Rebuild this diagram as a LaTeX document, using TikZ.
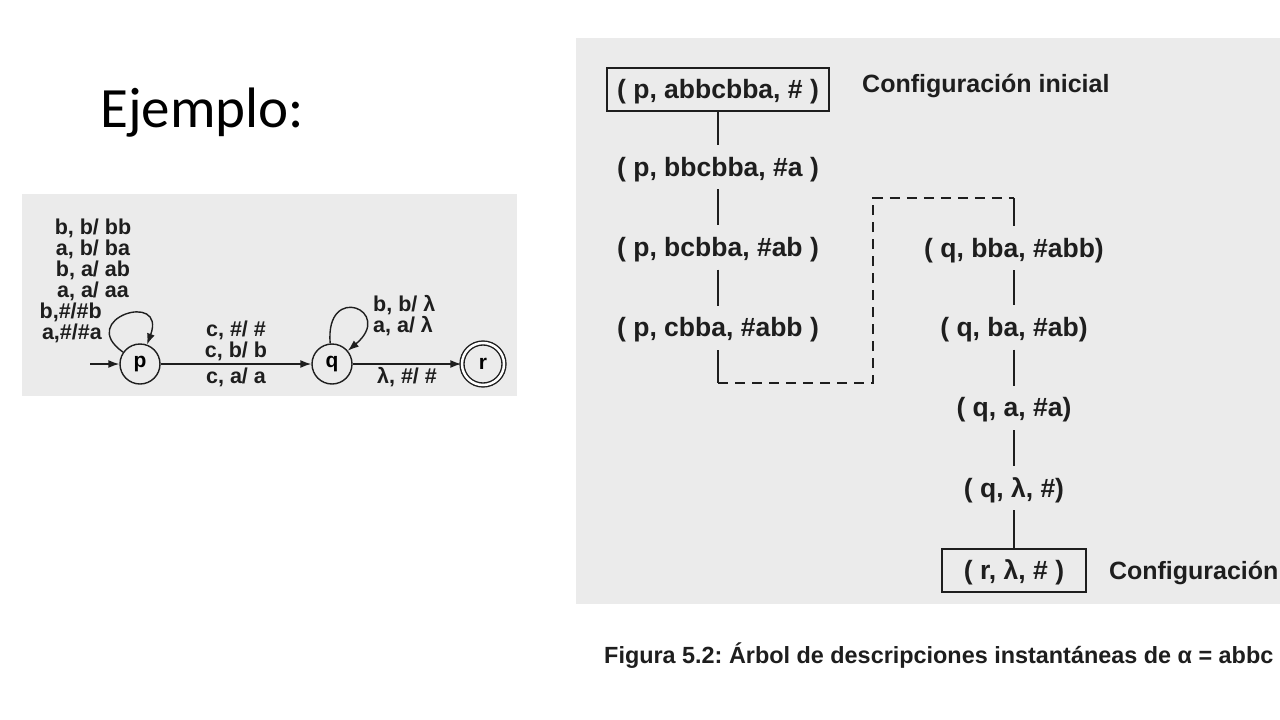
\documentclass[tikz,border=0pt]{standalone}
\usepackage{fontspec}
\setmainfont{Liberation Sans}
\newfontfamily\slidefont{Carlito}
\usetikzlibrary{positioning,arrows.meta}
\definecolor{panelgray}{RGB}{235,235,235}
\definecolor{inkgray}{RGB}{30,30,30}
\tikzset{
  state/.style={circle, draw=inkgray, line width=1.4pt, minimum size=40pt, inner sep=0pt, font=\fontsize{21}{22}\selectfont\bfseries},
  accept/.style={state, double, double distance=2.5pt, minimum size=42pt},
  tr/.style={draw=inkgray, line width=1.4pt, -{Latex[length=11pt,width=8pt]}},
  tlbl/.style={font=\fontsize{21.5}{21}\selectfont\bfseries, inner sep=1pt, text=inkgray},
  conf/.style={font=\fontsize{26.5}{28}\selectfont\bfseries, text=inkgray, text height=25pt, text depth=7pt, inner ysep=6pt, inner xsep=0pt},
  confbox/.style={conf, draw=inkgray, line width=1.6pt, inner ysep=5.5pt},
  clbl/.style={font=\fontsize{25}{28}\selectfont\bfseries, text=inkgray, inner sep=0pt},
  tline/.style={draw=inkgray, line width=2pt},
  dline/.style={draw=inkgray, line width=2pt, dash pattern=on 10pt off 7pt},
}
\frenchspacing
\begin{document}
\begin{tikzpicture}[x=1pt, y=-1pt]
\useasboundingbox (0,0) rectangle (1280,720);
\clip (0,0) rectangle (1280,720);
\fill[white] (0,0) rectangle (1280,720);
\fill[panelgray] (22,194) rectangle (517,396); % automaton panel
\fill[panelgray] (576,38) rectangle (1290,604); % tree panel
\node[font=\slidefont\fontsize{57}{63}\selectfont, inner sep=0pt, anchor=base west] (title) at (100,127) {Ejemplo:};
% automaton
\node[state] (p) at (140,364) {p}; % State.p
\node[state] (q) at (332,364) {q}; % State.q
\node[accept] (r) at (483,364) {r}; % State.r
\coordinate (start) at (90,364);
\draw[tr] (start) -- (p); % Initial
\draw[tr] (p) -- node[tlbl, above, align=center, yshift=1pt] (lpq) {c, \#/ \#\\c, b/ b} node[tlbl, below, yshift=-2pt] (lpqb) {c, a/ a} (q);
\draw[tr] (q) -- node[tlbl, below, yshift=-2pt] (lqr) {λ, \#/ \#} (r);
\draw[tr] (p) to[out=145, in=70, distance=58pt] (p); % Loop.p
\draw[tr] (q) to[out=95, in=40, distance=62pt] (q); % Loop.q
\node[tlbl, align=center] (lpp) at (93,260) {b, b/ bb\\a, b/ ba\\b, a/ ab\\a, a/ aa};
\node[tlbl, align=right, anchor=east] (lppb) at (103,323) {b,\#/\#b\\a,\#/\#a};
\node[tlbl, align=left, anchor=west] (lqq) at (372,316) {b, b/ λ\\a, a/ λ};
% tree of configurations
\node[confbox, minimum width=222pt] (c0) at (718,89.5) {( p, abbcbba, \# )};
\node[conf, below=33pt of c0] (c1) {( p, bbcbba, \#a )};
\node[conf, below=36pt of c1] (c2) {( p, bcbba, \#ab )};
\node[conf, below=36pt of c2] (c3) {( p, cbba, \#abb )};
\node[conf] (d0) at (1014,248) {( q, bba, \#abb)};
\node[conf, below=35pt of d0] (d1) {( q, ba, \#ab)};
\node[conf, below=36pt of d1] (d2) {( q, a, \#a)};
\node[conf, below=36pt of d2] (d3) {( q, λ, \#)};
\node[confbox, minimum width=144pt, below=38pt of d3] (d4) {( r, λ, \# )};
\node[clbl, anchor=base west] (lini) at (862,92) {Configuración inicial};
\node[clbl, anchor=base west] (lfin) at ([xshift=22pt]d4.base east) {Configuración};
\draw[tline] (c0) -- (c1);
\draw[tline] (c1) -- (c2);
\draw[tline] (c2) -- (c3);
\coordinate[below=33pt of c3] (turnl);
\coordinate[above=28pt of d0] (turnr);
\draw[tline] (c3) -- (turnl);
\draw[dline] (turnl) -- ++(155,0) |- (turnr);
\draw[tline] (turnr) -- (d0);
\draw[tline] (d0) -- (d1);
\draw[tline] (d1) -- (d2);
\draw[tline] (d2) -- (d3);
\draw[tline] (d3) -- (d4);
\node[font=\fontsize{23.4}{26}\selectfont\bfseries, text=inkgray, inner sep=0pt, anchor=base west] (caption) at (604,663) {Figura 5.2: Árbol de descripciones instantáneas de α = abbc};
\end{tikzpicture}
\end{document}
